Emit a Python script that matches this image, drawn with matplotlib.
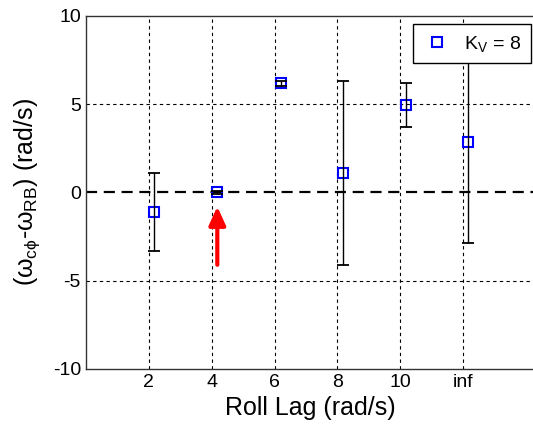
import matplotlib
matplotlib.use('Agg')
import matplotlib.pyplot as plt
import numpy as np

plt.rcParams['font.family'] = ['Liberation Sans', 'DejaVu Sans']
plt.rcParams['mathtext.fontset'] = 'custom'
plt.rcParams['mathtext.rm'] = 'Liberation Sans'
plt.rcParams['mathtext.it'] = 'Liberation Sans'
plt.rcParams['axes.unicode_minus'] = False

# roll lag categories (inf placed at position 12)
tick_pos = [2, 4, 6, 8, 10, 12]
tick_labels = ['2', '4', '6', '8', '10', 'inf']
# data points (plotted slightly right of the tick)
x_vals = [2.16, 4.18, 6.2, 8.17, 10.18, 12.15]
y_vals = [-1.1, 0.0, 6.19, 1.09, 4.96, 2.84]
y_err = [2.2, 0.1, 0.15, 5.2, 1.25, 5.7]

fig = plt.figure(figsize=(5.33, 4.30), dpi=100)
# axes runs just past the right edge of the picture, like the cropped original
ax = fig.add_axes([0.161, 0.142, 0.844, 0.821])

# MATLAB-style dotted grid
for xv in tick_pos:
    ax.axvline(xv, color='black', lw=0.8, ls=(0, (3, 3)), zorder=0)
for yv in [-5, 5]:
    ax.axhline(yv, color='black', lw=0.8, ls=(0, (3, 3)), zorder=0)

ax.axhline(0, color='black', lw=1.6, ls=(0, (5, 3)), zorder=1)

ax.plot(x_vals, y_vals, 's', mfc='none', mec='blue', mew=1.5, ms=7,
        label=r'K$_{\mathrm{V}}$ = 8', zorder=3)
ax.errorbar(x_vals, y_vals, yerr=y_err, fmt='none', ecolor='black',
            elinewidth=1.0, capsize=4, capthick=1.3, zorder=4)

# red arrow pointing to the chosen roll lag
ax.annotate('', xy=(x_vals[1], -0.8), xytext=(x_vals[1], -4.1),
            arrowprops=dict(arrowstyle='-|>,head_width=0.25,head_length=0.55',
                            mutation_scale=20, color='red', lw=3,
                            shrinkA=0, shrinkB=0), zorder=5)

ax.set_xlim(0, 14.3)
ax.set_ylim(-10, 10)
ax.set_xticks(tick_pos)
ax.set_xticklabels(tick_labels)
ax.set_yticks([-10, -5, 0, 5, 10])
ax.tick_params(direction='in', labelsize=14, length=0)
for s in ax.spines.values():
    s.set_linewidth(1.0)
    s.set_color('#333333')
# right border is cut off in the original
ax.spines['right'].set_visible(False)

ax.set_xlabel('Roll Lag (rad/s)', fontsize=18)
ax.set_ylabel(r'($\omega_{\mathrm{c}\phi}$-$\omega_{\mathrm{RB}}$) (rad/s)', fontsize=18,
              labelpad=8)

leg = ax.legend(loc='upper right', fontsize=14, fancybox=False, framealpha=1,
                edgecolor='black', handletextpad=0.7, borderpad=0.5,
                handlelength=1.4, borderaxespad=0,
                bbox_to_anchor=(0.989, 0.977))
leg.get_frame().set_linewidth(1.0)

fig.savefig('out.png', dpi=100)
